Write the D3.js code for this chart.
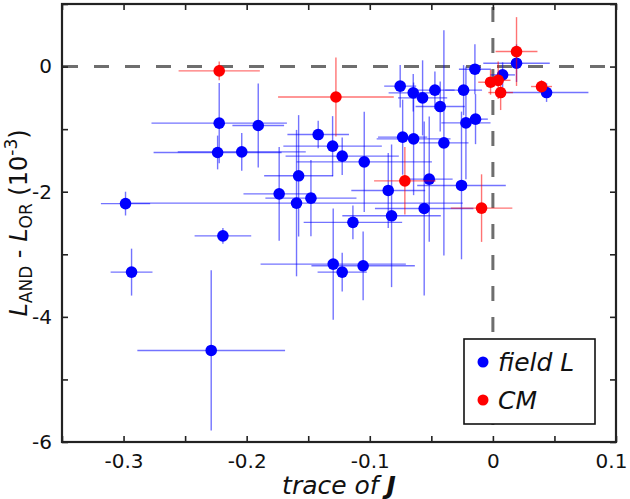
<!DOCTYPE html>
<html>
<head>
<meta charset="utf-8">
<script src="https://cdn.jsdelivr.net/npm/d3@7"></script>
<style>
  html, body { margin: 0; padding: 0; background: #fff; }
  svg { display: block; font-family: "DejaVu Sans", sans-serif; }
</style>
</head>
<body>
<svg id="chart" width="630" height="499"></svg>
<script>
// ---- data (trace of J, L_AND - L_OR in 1e-3) ----
const fieldX    = [-0.2984,-0.2935,-0.2288,-0.2193,-0.2223,-0.2236,-0.2040,-0.1906,-0.1736,-0.1595,
                   -0.1578,-0.1478,-0.1419,-0.1302,-0.1224,-0.1045,-0.1137,-0.1297,-0.1224,-0.1054,
                   -0.0753,-0.0647,-0.0571,-0.0471,-0.0428,-0.0238,-0.0146,-0.0733,-0.0644,-0.0398,
                   -0.0219,-0.0141,-0.0517,-0.0255,-0.0850,-0.0558,-0.0823, 0.0192, 0.0079, 0.0436];
const fieldY    = [-2.19,-3.285,-4.537,-2.705,-0.904,-1.373,-1.363,-0.942,-2.034,-2.182,
                   -1.746,-2.103,-1.086,-1.272,-1.432,-1.523,-2.49,-3.157,-3.285,-3.184,
                   -0.313,-0.42,-0.50,-0.377,-0.639,-0.377,-0.042,-1.128,-1.155,-1.219,
                   -0.90,-0.84,-1.799,-1.90,-1.98,-2.268,-2.385, 0.054,-0.133,-0.415];
const fieldXerr = [0.020,0.017,0.060,0.023,0.055,0.052,0.052,0.021,0.029,0.135,
                   0.028,0.037,0.025,0.040,0.046,0.055,0.040,0.059,0.020,0.042,
                   0.013,0.020,0.020,0.016,0.020,0.015,0.013,0.020,0.030,0.020,
                   0.020,0.010,0.019,0.036,0.030,0.040,0.040,0.027,0.010,0.034];
const fieldYerr = [0.19,0.375,1.28,0.125,0.64,0.27,0.30,0.67,0.75,1.17,
                   0.97,0.61,0.22,0.48,0.30,0.80,0.27,0.89,0.31,0.55,
                   0.34,0.30,0.60,0.30,0.40,0.40,0.40,0.60,0.90,1.80,
                   0.90,0.40,1.00,1.18,0.60,1.39,1.14,0.30,0.20,0.15];

const cmX    = [-0.2223,-0.1275,-0.0715,-0.0092, 0.0192,-0.0019, 0.0043, 0.0063, 0.0395];
const cmY    = [-0.069,-0.486,-1.826,-2.262, 0.24,-0.25,-0.22,-0.415,-0.319];
const cmXerr = [0.033,0.047,0.025,0.025,0.017,0.010,0.010,0.010,0.0085];
const cmYerr = [0.15,0.63,0.54,0.54,0.55,0.20,0.30,0.28,0.10];

const xTicks = [-0.35,-0.3,-0.25,-0.2,-0.15,-0.1,-0.05,0,0.05,0.1];
const yTicks = [-6,-5,-4,-3,-2,-1,0,1];
const seriesNames = ["field L", "CM"];
const seriesColors = ["#0000ff", "#ff0000"];

// ---- layout ----
const L = 62, R = 616, T = 4, B = 442;
const svg = d3.select("#chart");
const x = d3.scaleLinear().domain([-0.35, 0.1]).range([L, R]);
const y = d3.scaleLinear().domain([-6, 1]).range([B, T]);

const isMult = (v, step) => Math.abs(Math.round(v / step) - v / step) < 1e-6;
const fmtX = d => isMult(d, 0.1) ? (Math.abs(d) < 1e-9 ? "0" : d3.format(".1f")(d).replace("\u2212", "-")) : "";
const fmtY = d => isMult(d, 2) ? String(d).replace("\u2212", "-") : "";

// reference lines
svg.append("line").attr("x1", L).attr("x2", R).attr("y1", y(0)).attr("y2", y(0))
  .attr("stroke", "#6e6e6e").attr("stroke-width", 3).attr("stroke-dasharray", "15,16")
  .attr("stroke-dashoffset", -1);
svg.append("line").attr("x1", x(0)).attr("x2", x(0)).attr("y1", T).attr("y2", B)
  .attr("stroke", "#6e6e6e").attr("stroke-width", 3).attr("stroke-dasharray", "15,16")
  .attr("stroke-dashoffset", -3);

// series drawing
function drawSeries(xs, ys, xe, ye, color) {
  const data = xs.map((v, i) => ({x: v, y: ys[i], xe: xe[i], ye: ye[i]}));
  const g = svg.append("g");
  g.selectAll("line.h").data(data).join("line").attr("class", "h")
    .attr("x1", d => x(d.x - d.xe)).attr("x2", d => x(d.x + d.xe))
    .attr("y1", d => y(d.y)).attr("y2", d => y(d.y))
    .attr("stroke", color).attr("stroke-opacity", 0.55).attr("stroke-width", 1.4);
  g.selectAll("line.v").data(data).join("line").attr("class", "v")
    .attr("x1", d => x(d.x)).attr("x2", d => x(d.x))
    .attr("y1", d => y(d.y - d.ye)).attr("y2", d => y(d.y + d.ye))
    .attr("stroke", color).attr("stroke-opacity", 0.55).attr("stroke-width", 1.4);
  g.selectAll("circle").data(data).join("circle")
    .attr("cx", d => x(d.x)).attr("cy", d => y(d.y)).attr("r", 5.8)
    .attr("fill", color);
}
drawSeries(fieldX, fieldY, fieldXerr, fieldYerr, seriesColors[0]);
drawSeries(cmX, cmY, cmXerr, cmYerr, seriesColors[1]);

// axes (inward ticks on all four sides)
const axStyle = g => {
  g.select(".domain").remove();
  g.selectAll(".tick line").attr("stroke", "#222").attr("stroke-width", 1.6);
  g.selectAll(".tick text").attr("font-size", 20).attr("fill", "#111")
    .attr("font-family", "DejaVu Sans, sans-serif");
};
const xAxisG = svg.append("g").attr("transform", `translate(0,${B})`)
  .call(d3.axisBottom(x).tickValues(xTicks).tickSizeInner(-6).tickSizeOuter(0).tickPadding(12).tickFormat(fmtX))
  .call(axStyle);
// keep the last label ("0.1") inside the window
xAxisG.selectAll(".tick text").filter(d => Math.abs(d - 0.1) < 1e-9).attr("dx", -5);
svg.append("g").attr("transform", `translate(0,${T})`)
  .call(d3.axisTop(x).tickValues(xTicks).tickSizeInner(-6).tickSizeOuter(0).tickFormat(""))
  .call(axStyle);
svg.append("g").attr("transform", `translate(${L},0)`)
  .call(d3.axisLeft(y).tickValues(yTicks).tickSizeInner(-6).tickSizeOuter(0).tickPadding(10).tickFormat(fmtY))
  .call(axStyle);
svg.append("g").attr("transform", `translate(${R},0)`)
  .call(d3.axisRight(y).tickValues(yTicks).tickSizeInner(-6).tickSizeOuter(0).tickFormat(""))
  .call(axStyle);

// frame
svg.append("rect").attr("x", L).attr("y", T).attr("width", R - L).attr("height", B - T)
  .attr("fill", "none").attr("stroke", "#222").attr("stroke-width", 2.2);

// x label
const xl = svg.append("text").attr("x", (L + R) / 2).attr("y", 494)
  .attr("text-anchor", "middle").attr("font-size", 25).attr("fill", "#111");
xl.append("tspan").attr("font-style", "italic").text("trace of ");
xl.append("tspan").attr("font-style", "italic").attr("font-weight", "bold").text("J");

// y label
const yl = svg.append("text").attr("transform", `translate(27,${(T + B) / 2}) rotate(-90)`)
  .attr("text-anchor", "middle").attr("font-size", 24).attr("fill", "#111");
yl.append("tspan").attr("font-style", "italic").text("L");
yl.append("tspan").attr("font-size", 17).attr("dy", 5).text("AND");
yl.append("tspan").attr("dy", -5).text(" - ");
yl.append("tspan").attr("font-style", "italic").text("L");
yl.append("tspan").attr("font-size", 17).attr("dy", 5).text("OR");
yl.append("tspan").attr("dy", -5).text(" (10");
yl.append("tspan").attr("font-size", 17).attr("dy", -10).text("-3");
yl.append("tspan").attr("dy", 10).text(")");

// legend
const lg = svg.append("g");
lg.append("rect").attr("x", 464).attr("y", 339).attr("width", 131).attr("height", 85)
  .attr("fill", "#fff").attr("stroke", "#111").attr("stroke-width", 1.6);
seriesNames.forEach((name, i) => {
  const cy = 362 + i * 38;
  lg.append("circle").attr("cx", 483).attr("cy", cy).attr("r", 5.5).attr("fill", seriesColors[i]);
  lg.append("text").attr("x", 498).attr("y", cy + 9).attr("font-size", 25)
    .attr("font-style", "italic").attr("fill", "#111").text(name);
});
</script>
</body>
</html>
